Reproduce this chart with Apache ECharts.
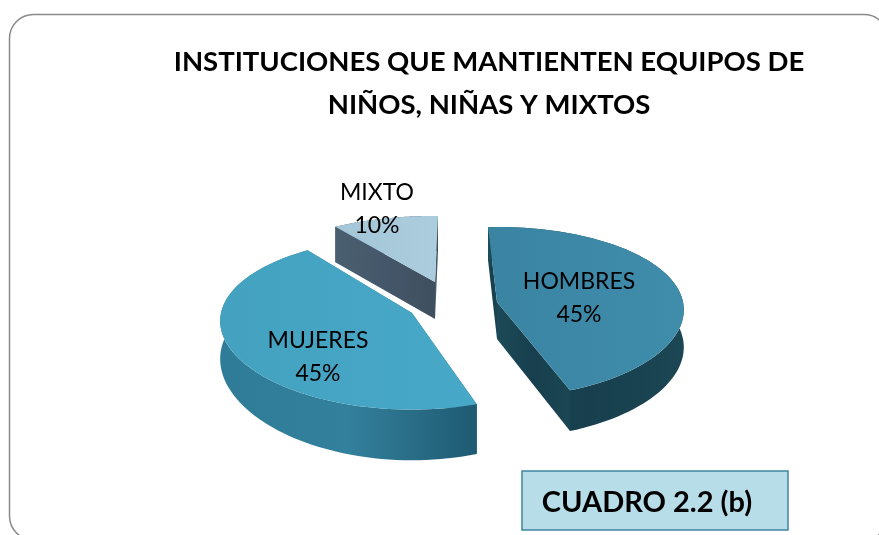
<!DOCTYPE html>
<html><head><meta charset="utf-8">
<style>html,body{margin:0;padding:0;background:#fff;overflow:hidden}#c{width:879px;height:535px}</style>
<script src="https://cdn.jsdelivr.net/npm/echarts@6/dist/echarts.min.js"></script>
</head><body><div id="c"></div>
<script>
var titleText = 'INSTITUCIONES QUE MANTIENTEN EQUIPOS DE\nNIÑOS, NIÑAS Y MIXTOS';
var boxText = 'CUADRO 2.2 (b)';
var categories = ['HOMBRES', 'MUJERES', 'MIXTO'];
var shares = [45, 45, 10];

// drawing style, one entry per slice
var apexX = [497, 412, 435], apexY = [302, 313, 282];
var labelX = [579, 318, 377], labelY = [298, 357, 209];
var radiusX = [186, 191, 187], radiusY = [84, 85, 74];
var angleShift = [-3, 0, 1];
var depthPersp = [0.1, 0.27, 0.05];
var topColors = [['#3a84a2', '#3f8dab'], ['#44a2c0', '#48a8c8'], ['#a3c6d8', '#abcddd']];
var wallColors = [['#1d4a58', '#173f4d', '#1c4654'], ['#2e7c98', '#33809c', '#1f5a72'], ['#4a5f70', '#44576a', '#3f4f5e']];
var KX = 0.093, KY = 0.12, DEPTH = 37;

function project(i, deg, r) {
  var a = deg * Math.PI / 180, X = Math.sin(a) * r, Y = -Math.cos(a) * r;
  return [apexX[i] + radiusX[i] * X / (1 - KX * Y), apexY[i] + radiusY[i] * Y / (1 - KY * Y), DEPTH / (1 - depthPersp[i] * Y)];
}
function grad(c) {
  return {type: 'linear', x: 0, y: 0, x2: 1, y2: 0, colorStops: c.map(function (s, i) { return {offset: i / (c.length - 1), color: s}; })};
}
function renderSlice(params, api) {
  var i = params.dataIndex, total = shares.reduce(function (a, b) { return a + b; }, 0), before = 0;
  for (var j = 0; j < i; j++) before += shares[j];
  var a0 = angleShift[i] + before / total * 360, a1 = a0 + api.value(0) / total * 360;
  var ax = apexX[i], ay = apexY[i], arcTop = [], arcBot = [];
  for (var n = 0; n <= 80; n++) {
    var p = project(i, a0 + (a1 - a0) * n / 80, 1);
    arcTop.push([p[0], p[1]]);
    arcBot.push([p[0], p[1] + p[2]]);
  }
  var d0 = DEPTH;
  var wall = {fill: grad(wallColors[i])};
  return {type: 'group', children: [
    {type: 'polygon', shape: {points: [[ax, ay], arcTop[0], arcBot[0], [ax, ay + d0]]}, style: wall},
    {type: 'polygon', shape: {points: [[ax, ay], arcTop[80], arcBot[80], [ax, ay + d0]]}, style: wall},
    {type: 'polygon', shape: {points: arcTop.concat(arcBot.slice().reverse())}, style: wall},
    {type: 'polygon', shape: {points: [[ax, ay]].concat(arcTop)}, style: {fill: grad(topColors[i])}},
    {type: 'text', x: labelX[i], y: labelY[i], z2: 10, style: {
      text: categories[i] + '\n' + api.value(0) + '%', fill: '#000', align: 'center', verticalAlign: 'middle',
      font: '23px Lato', lineHeight: 33}}
  ]};
}
var chart = echarts.init(document.getElementById('c'), null, {renderer: 'canvas'});
chart.setOption({
  animation: false,
  backgroundColor: '#fff',
  title: {text: titleText, left: 484, top: 36, textAlign: 'center',
    textStyle: {fontFamily: 'Lato', fontWeight: 'bold', fontSize: 27.5, lineHeight: 43, color: '#000'}},
  graphic: [
    {type: 'rect', z: -1, shape: {x: 9.5, y: 14.5, width: 878.5, height: 525.5, r: 24}, style: {fill: 'none', stroke: '#8a8a8a', lineWidth: 1.5}},
    {type: 'rect', shape: {x: 522, y: 471, width: 266, height: 59}, style: {fill: '#b7dde9', stroke: '#3f86a0', lineWidth: 1.5}},
    {type: 'text', x: 647, y: 503, style: {text: boxText, font: 'bold 29px Lato', fill: '#000', align: 'center', verticalAlign: 'middle'}}
  ],
  series: [{
    type: 'custom', coordinateSystem: 'none', renderItem: renderSlice,
    data: shares.map(function (v, i) { return {name: categories[i], value: [v]}; })
  }]
});
</script></body></html>
